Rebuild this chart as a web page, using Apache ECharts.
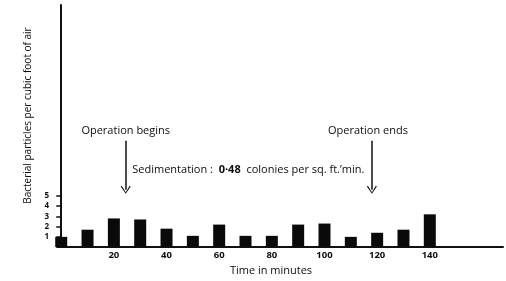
<!DOCTYPE html>
<html>
<head>
<meta charset="utf-8">
<script src="https://cdn.jsdelivr.net/npm/echarts@6/dist/echarts.min.js"></script>
<style>html,body{margin:0;padding:0;background:#fff}#c{width:506px;height:281px}</style>
</head>
<body>
<div id="c"></div>
<script>
// Data (time in minutes, bacterial particles per cubic foot of air)
var times = [0, 10, 20, 30, 40, 50, 60, 70, 80, 90, 100, 110, 120, 130, 140];
var counts = [1.0, 1.7, 2.8, 2.7, 1.8, 1.1, 2.2, 1.1, 1.1, 2.2, 2.3, 1.0, 1.4, 1.7, 3.2];
var xTickLabels = [20, 40, 60, 80, 100, 120, 140];
var yTickLabels = [1, 2, 3, 4, 5];
// Annotations
var beginTime = 24.5;
var endTime = 118;
var arrowTop = 10.4;
var arrowBottom = 5.6;
var annotationLevel = 11.35;
var beginText = 'Operation begins';
var endText = 'Operation ends';
var sedLabel = 'Sedimentation :  ';
var sedValue = '0·48';
var sedUnit = '  colonies per sq. ft.\u2019min.';
var sedPos = [27.0, 7.5];

var FONT = 'Open Sans';
var TXT = '#0d0d0d';
var chart = echarts.init(document.getElementById('c'));
var chevron = 'path://M5,0 L10,9 L9,10 L5,2 L1,10 L0,9 Z';

chart.setOption({
  animation: false,
  backgroundColor: '#fff',
  grid: { left: 57, right: 3, top: 5, bottom: 30, containLabel: false },
  xAxis: {
    type: 'value', min: -1.6, max: 167.8,
    splitLine: { show: false },
    axisLine: { lineStyle: { color: '#111', width: 2 } },
    axisTick: { show: false },
    axisLabel: { customValues: xTickLabels, color: TXT, fontSize: 9.5, fontWeight: 'bold', fontFamily: FONT, margin: 3 },
    name: 'Time in minutes', nameLocation: 'middle', nameGap: 14,
    nameTextStyle: { color: TXT, fontSize: 11, fontWeight: 500, fontFamily: FONT, padding: [0, 18, 0, 0] }
  },
  yAxis: {
    type: 'value', min: 0, max: 23.65,
    splitLine: { show: false },
    axisLine: { show: true, lineStyle: { color: '#111', width: 2 } },
    axisTick: { show: true, customValues: yTickLabels, length: 5, lineStyle: { color: '#111', width: 1.5 } },
    axisLabel: { customValues: yTickLabels, color: TXT, fontSize: 8, fontWeight: 'bold', fontFamily: FONT, margin: 8 },
    name: 'Bacterial particles per cubic foot of air', nameLocation: 'middle', nameRotate: 90, nameGap: 20,
    nameTextStyle: { color: TXT, fontSize: 10, fontWeight: 500, fontFamily: FONT, padding: [0, 0, 0, 21] }
  },
  series: [{
    type: 'bar',
    barWidth: 12,
    itemStyle: { color: '#0a0a0a' },
    data: times.map(function (t, i) { return [t, counts[i]]; }),
    markLine: {
      silent: true,
      symbol: ['none', chevron],
      symbolSize: [10, 8],
      lineStyle: { color: '#111', width: 1.5, type: 'solid' },
      label: { show: false },
      data: [
        [{ coord: [beginTime, arrowTop] }, { coord: [beginTime, arrowBottom] }],
        [{ coord: [endTime, arrowTop] }, { coord: [endTime, arrowBottom] }]
      ]
    },
    markPoint: {
      silent: true,
      symbol: 'circle', symbolSize: 0,
      label: { show: true, color: TXT, fontSize: 11, fontWeight: 500, fontFamily: FONT, position: 'inside' },
      data: [
        { coord: [beginTime, annotationLevel], label: { formatter: beginText } },
        { coord: [endTime - 1.5, annotationLevel], label: { formatter: endText } },
        { coord: sedPos, label: {
            formatter: '{a|' + sedLabel + '}{b|' + sedValue + '}{a|' + sedUnit + '}',
            position: 'right', distance: 0,
            rich: {
              a: { color: TXT, fontSize: 11, fontWeight: 500, fontFamily: FONT },
              b: { color: TXT, fontSize: 11, fontWeight: 'bold', fontFamily: FONT }
            }
        } }
      ]
    }
  }]
});
</script>
</body>
</html>
